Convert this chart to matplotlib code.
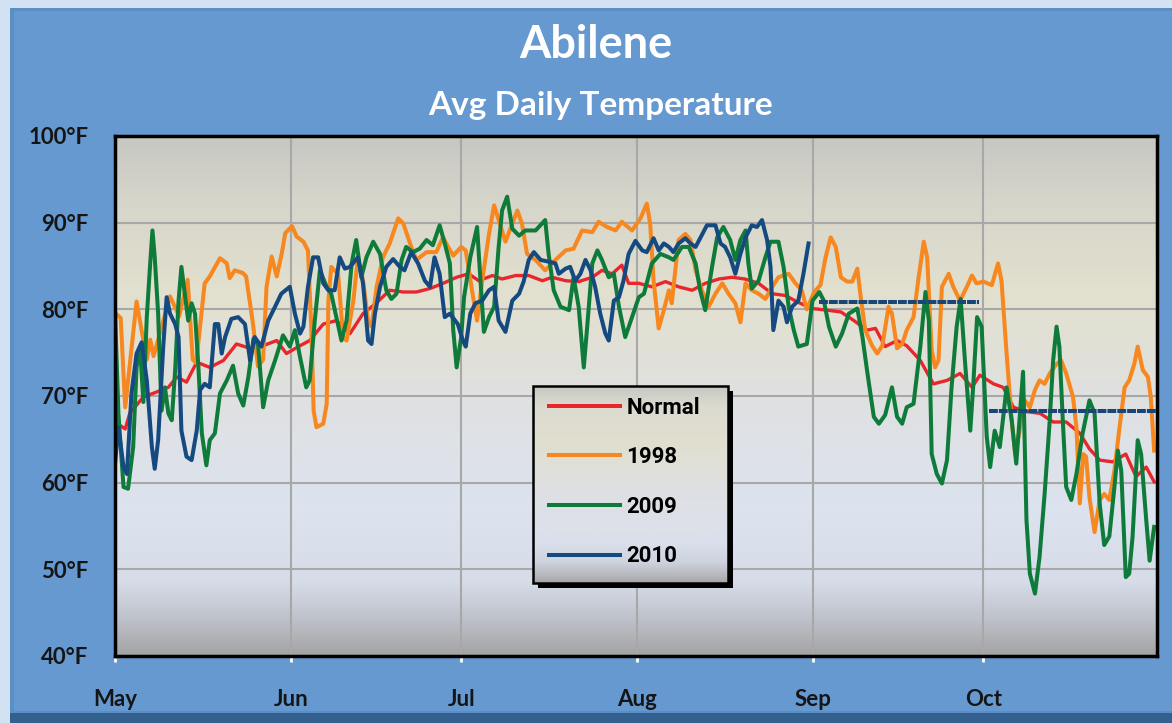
import numpy as np
import matplotlib
matplotlib.use("Agg")
import matplotlib.pyplot as plt
from matplotlib.colors import LinearSegmentedColormap
from matplotlib.patches import Rectangle

# ---- data: day offset from May 1, avg daily temperature (F) ----
normal_day = [0, 1.8, 2.6, 5, 6.7, 9.4, 10.9, 12.6, 14.4, 16.7, 19.1, 21.4, 23.8, 26.1, 28.5,
              30.2, 32.6, 34.3, 36.7, 39, 41.4, 43.7, 46, 48.4, 50.8, 53.1, 55.5, 57.8, 60.2,
              62.3, 64.1, 66.5, 68.2, 70.6, 72.9, 75.3, 77, 79.4, 81.7, 84.1, 85.8, 87.6, 89.3,
              90.5, 92.3, 94.6, 97, 99.3, 101.7, 104, 106.4, 108.7, 111, 113.4, 115.8, 118.1,
              120.4, 122.8, 125.5, 127.9, 130.2, 132.5, 134, 135.7, 137.8, 139.5, 141.9, 144.2,
              146.6, 148.9, 151, 152.4, 154.8, 156.5, 158.3, 160.6, 163, 165.3, 167.6, 170,
              171.7, 173.5, 175.8, 178.1, 179.9, 181.7, 183.1]
normal_temp = [67.0, 66.2, 68.0, 69.9, 70.3, 71.0, 72.2, 71.6, 73.9, 73.3, 74.1, 76.0, 75.5, 75.8, 76.4,
               74.9, 75.8, 76.4, 78.3, 78.7, 77.2, 79.5, 80.7, 82.2, 82.0, 82.0, 82.4, 83.0, 83.7,
               84.1, 83.3, 83.9, 83.5, 83.9, 83.9, 83.3, 83.7, 83.3, 83.2, 83.7, 84.5, 84.1, 85.1,
               83.0, 83.0, 82.6, 83.2, 82.6, 82.2, 83.0, 83.5, 83.7, 83.5, 83.0, 81.8, 81.6,
               80.8, 80.1, 79.9, 79.7, 78.7, 77.6, 77.8, 75.7, 76.4, 75.8, 74.1, 71.4,
               71.8, 72.6, 71.0, 72.4, 71.4, 71.0, 68.7, 68.2, 68.0, 67.0, 67.0, 65.7,
               63.9, 62.6, 62.4, 63.3, 60.7, 61.8, 60.1]

y1998_day = [0, 1.0, 1.8, 3.8, 5.6, 6.2, 6.8, 9.7, 11.3, 12.8, 13.7, 14.3, 15.8, 16.7, 18.5, 19.7,
             20.2, 21.1, 22.5, 23.1, 24.3, 25.2, 26.1, 26.7, 27.6, 28.5, 29.4, 30.0, 31.2, 32.0,
             33.2, 34.0, 34.6, 35.0, 35.5, 36.7, 37.3, 37.6, 38.1, 39.3, 40.2, 40.8, 42.0, 42.8,
             43.7, 44.6, 45.2, 46.1, 47.2, 48.4, 49.9, 50.8, 52.2, 53.1, 54.9, 56.6, 57.8, 58.7,
             59.6, 61.0, 61.8, 62.9, 63.8, 64.7, 65.9, 66.8, 67.6, 68.8, 70.0, 70.9, 71.7, 72.6,
             74.1, 75.8, 77.6, 79.4, 80.8, 82.3, 84.1, 85.2, 86.7, 88.2, 89.3, 91.1, 92.6, 93.7,
             94.3, 94.9, 95.8, 96.7, 97.6, 98.1, 99.3, 100.5, 101.4, 102.3, 103.4, 104.6, 105.8,
             107.0, 108.1, 109.3, 110.2, 111.1, 112.2, 113.4, 114.6, 115.8, 116.9, 118.7, 119.9,
             121.0, 121.9, 123.2, 124.3, 125.2, 126.1, 127.0, 127.9, 129.0, 129.9, 130.8, 131.4,
             132.2, 133.4, 134.3, 135.2, 136.3, 136.9, 137.8, 138.7, 139.5, 140.7, 141.6, 142.5,
             143.1, 143.9, 144.5, 145.1, 145.7, 146.9, 147.7, 148.9, 150.1, 151.0, 151.8, 153.0,
             154.5, 155.6, 156.2, 157.1, 158.0, 158.6, 159.4, 160.3, 161.2, 162.1, 162.9, 163.8,
             164.7, 165.9, 166.7, 167.6, 168.8, 169.4, 170.0, 170.6, 171.1, 171.7, 172.6, 173.5,
             174.3, 175.2, 176.1, 177.0, 177.9, 178.7, 179.6, 180.2, 181.1, 182.0, 182.5, 183.1]
y1998_temp = [79.6, 79.0, 68.7, 80.9, 74.2, 76.5, 74.6, 81.5, 79.2, 83.4, 74.2, 73.8, 83.0, 83.8, 85.9, 85.3,
              83.6, 84.5, 84.2, 83.8, 78.4, 73.4, 74.2, 82.6, 86.1, 83.8, 86.5, 88.8, 89.6, 88.4,
              87.8, 86.8, 77.6, 68.3, 66.4, 66.8, 69.1, 81.0, 84.9, 84.1, 76.8, 76.4, 81.0, 86.0,
              83.3, 78.7, 78.0, 82.6, 86.0, 87.6, 90.5, 89.9, 87.2, 85.7, 86.6, 86.6, 88.3, 87.2,
              86.2, 87.2, 86.8, 82.2, 78.7, 83.3, 88.7, 92.0, 90.3, 87.8, 89.9, 91.4, 89.9, 86.4,
              85.7, 84.5, 85.7, 86.8, 87.0, 89.1, 88.9, 90.1, 89.5, 89.1, 90.1, 89.1, 90.5, 92.2,
              89.9, 83.3, 77.8, 79.9, 82.2, 80.7, 88.0, 88.7, 88.0, 84.5, 82.2, 80.3, 81.8,
              83.0, 81.8, 80.7, 78.5, 83.0, 82.2, 81.8, 81.2, 82.6, 83.7, 84.1, 83.0,
              82.2, 80.0, 82.0, 82.8, 86.0, 88.3, 87.2, 83.7, 83.2, 83.2, 84.7, 81.4,
              77.6, 75.8, 74.9, 75.8, 80.3, 79.5, 75.5, 76.0, 77.6, 79.1, 83.7, 87.8,
              86.0, 75.3, 73.3, 74.1, 82.6, 84.1, 82.6, 81.0, 82.6, 83.9, 83.0, 83.2,
              82.8, 85.3, 83.3, 74.9, 67.2, 63.3, 66.0, 69.5, 68.7, 70.7, 71.8, 71.4,
              72.6, 73.7, 74.1, 72.6, 69.9, 66.4, 57.6, 63.3, 63.0, 58.3, 54.3, 58.0,
              58.7, 58.0, 61.4, 66.4, 71.0, 71.8, 73.7, 75.7, 73.0, 72.2, 69.9, 63.7]

y2009_day = [0, 0.6, 1.5, 2.3, 3.2, 3.8, 4.4, 5.0, 5.6, 6.2, 6.6, 7.0, 7.6, 8.2, 8.8, 9.4, 10.0,
             10.6, 11.2, 11.7, 12.3, 12.9, 13.5, 14.1, 14.7, 15.3, 16.1, 16.7, 17.6, 18.5, 19.7,
             20.8, 21.7, 22.6, 23.5, 24.4, 25.2, 26.1, 27.0, 28.2, 29.6, 30.8, 31.7, 32.6, 33.7,
             34.3, 35.2, 36.1, 37.3, 38.1, 39.0, 39.9, 40.8, 41.7, 42.5, 43.4, 44.3, 45.5, 46.7,
             47.8, 48.7, 49.6, 50.5, 51.3, 52.5, 53.7, 54.9, 56.0, 57.2, 58.1, 59.0, 59.6, 60.2,
             61.0, 61.5, 62.6, 63.8, 64.4, 65.0, 65.9, 66.8, 67.6, 68.2, 69.1, 70.0, 71.2, 72.3,
             74.1, 75.8, 76.4, 77.3, 78.5, 80.0, 80.8, 81.7, 82.6, 83.2, 84.1, 85.0, 85.8, 87.0,
             87.9, 88.8, 89.9, 91.1, 92.3, 93.2, 94.6, 96.1, 97.6, 98.4, 99.9, 101.1, 102.3,
             103.1, 104.0, 105.2, 106.1, 107.2, 108.4, 109.3, 110.2, 111.1, 111.6, 112.2, 113.4,
             114.6, 115.5, 116.9, 117.8, 118.7, 119.6, 120.4, 121.9, 122.9, 124.1, 124.9, 125.8,
             127.0, 128.1, 129.3, 130.8, 131.7, 132.5, 133.7, 134.6, 135.7, 136.9, 137.8, 138.7,
             139.5, 140.7, 141.9, 142.8, 143.4, 143.9, 144.8, 145.7, 146.6, 147.4, 148.3, 149.0,
             149.8, 150.7, 151.2, 151.9, 152.7, 153.6, 154.2, 155.0, 155.9, 157.1, 158.0, 158.8,
             160.0, 160.6, 161.2, 162.1, 162.9, 163.8, 164.7, 165.3, 165.9, 166.4, 167.0, 167.6,
             168.5, 169.4, 170.5, 171.7, 172.6, 173.5, 174.3, 175.2, 176.1, 176.7, 177.3, 178.1,
             178.7, 179.3, 180.2, 180.8, 181.7, 182.3, 183.1]
y2009_temp = [79.9, 68.0, 59.5, 59.3, 64.1, 73.3, 75.7, 69.3, 79.1, 85.3, 89.1, 86.0, 79.5, 68.3, 71.0, 68.0, 67.2,
              73.0, 81.0, 84.9, 81.8, 78.7, 80.7, 79.5, 73.3, 65.7, 62.0, 64.9, 65.7, 70.3, 71.8,
              73.5, 70.3, 68.9, 72.2, 76.6, 76.0, 68.7, 71.8, 74.1, 77.0, 75.7, 77.6, 74.5, 71.0,
              71.8, 78.7, 84.5, 82.6, 81.8, 79.1, 76.4, 78.7, 85.3, 88.0, 83.7, 86.0, 87.8, 86.4,
              82.2, 81.2, 81.8, 85.7, 87.2, 86.6, 87.0, 88.0, 87.4, 89.7, 87.6, 85.3, 77.6, 73.3,
              76.8, 81.4, 86.0, 89.5, 83.3, 77.4, 79.1, 80.3, 87.2, 91.4, 93.0, 89.3, 88.5, 89.1,
              89.1, 90.3, 86.4, 82.2, 80.3, 79.9, 83.7, 80.3, 73.3, 78.0, 85.3, 86.8, 85.7, 83.7,
              84.1, 80.3, 76.8, 79.1, 81.4, 81.8, 85.3, 86.4, 86.0, 85.7, 87.2, 87.2, 85.3,
              82.2, 79.9, 84.9, 88.3, 89.5, 88.0, 85.7, 88.0, 89.1, 85.3, 82.4, 83.3,
              86.0, 87.8, 87.8, 84.9, 80.3, 77.6, 75.7, 76.0, 81.0, 82.0, 81.0, 78.0,
              75.7, 77.2, 79.5, 80.1, 76.8, 73.0, 67.6, 66.8, 67.8, 71.0, 67.6, 66.8,
              68.7, 69.1, 75.7, 82.0, 78.7, 63.3, 61.0, 59.9, 62.6, 71.0, 78.0, 81.2,
              73.7, 66.0, 71.0, 79.1, 78.0, 65.3, 61.8, 66.0, 64.1, 71.0, 67.2, 62.2,
              72.8, 55.7, 49.5, 47.2, 51.4, 58.7, 67.2, 74.1, 78.0, 75.7, 67.2, 59.5,
              58.0, 61.0, 65.7, 69.5, 68.0, 57.6, 52.8, 53.8, 59.5, 63.7, 61.4, 49.1,
              49.5, 53.8, 64.9, 63.3, 55.7, 51.0, 54.9]

y2010_day = [0, 0.6, 1.5, 2.1, 2.9, 3.8, 4.7, 5.6, 6.5, 7.0, 7.6, 8.5, 9.1, 9.7, 10.6, 11.2, 11.7,
             12.6, 13.5, 14.4, 15.0, 15.8, 16.7, 17.6, 18.2, 18.8, 19.4, 20.5, 21.7, 22.9, 23.8,
             24.6, 25.8, 27.0, 28.2, 29.3, 30.8, 31.7, 32.6, 33.2, 34.0, 34.9, 35.8, 36.7, 37.6,
             38.7, 39.6, 40.5, 41.4, 42.8, 43.7, 44.6, 45.2, 45.8, 46.7, 47.8, 49.0, 50.2, 51.0,
             52.2, 53.4, 54.6, 55.5, 56.3, 57.2, 58.1, 59.0, 60.4, 61.3, 61.8, 62.6, 63.5, 64.7,
             65.9, 66.8, 67.6, 68.8, 70.0, 71.2, 72.0, 72.9, 73.8, 75.0, 76.4, 77.6, 78.2, 79.4,
             80.2, 81.1, 82.0, 82.9, 83.8, 84.6, 85.5, 86.4, 87.0, 87.9, 88.8, 89.6, 90.5, 91.7,
             92.9, 93.7, 94.9, 95.8, 96.7, 97.6, 98.4, 99.3, 100.5, 101.4, 102.3, 103.1, 104.3,
             105.8, 106.7, 107.5, 108.4, 109.3, 110.2, 111.1, 112.2, 113.1, 114.0, 114.9, 115.5,
             116.0, 116.9, 117.8, 118.4, 119.3, 120.4, 121.3, 122.2]
y2010_temp = [62.2, 66.4, 61.8, 61.0, 70.3, 74.9, 76.2, 71.8, 64.1, 61.6, 64.9, 75.7, 81.4, 79.5, 78.3, 76.8, 66.0,
              63.0, 62.6, 66.0, 70.7, 71.4, 71.0, 78.3, 78.3, 74.9, 76.8, 78.9, 79.1, 78.3, 74.1,
              76.8, 75.7, 78.7, 80.3, 81.8, 82.6, 79.5, 77.2, 78.0, 82.6, 86.0, 86.0, 83.0, 82.2,
              82.2, 86.0, 84.7, 84.9, 86.0, 83.0, 76.4, 76.0, 79.5, 82.6, 84.9, 85.8, 84.9, 84.5,
              86.6, 85.3, 83.3, 82.6, 86.0, 84.1, 79.1, 79.5, 78.3, 76.4, 75.7, 79.5, 80.7, 81.0,
              82.2, 82.6, 78.7, 77.4, 81.0, 81.8, 83.2, 85.7, 86.6, 85.7, 85.5, 85.3, 84.1, 84.7,
              84.9, 83.3, 84.1, 85.7, 84.5, 82.6, 79.5, 77.2, 76.4, 81.0, 81.4, 83.3, 86.4, 87.9,
              86.8, 86.6, 88.2, 86.8, 87.6, 87.2, 86.6, 87.6, 88.2, 87.6, 87.2, 88.2, 89.7,
              89.7, 87.6, 87.2, 86.0, 84.1, 86.4, 88.3, 89.7, 89.5, 90.3, 88.0, 84.9,
              77.6, 81.0, 80.3, 78.5, 80.3, 81.0, 84.1, 87.6]

# 2010 monthly averages drawn for Sep and Oct
sep_span = [124, 152.3]
sep_avg = 80.8
oct_span = [154, 183.5]
oct_avg = 68.3

month_start = [0, 31, 61, 92, 123, 153]
month_labels = ["May", "Jun", "Jul", "Aug", "Sep", "Oct"]
y_ticks = [40, 50, 60, 70, 80, 90, 100]

W, H = 1172, 723
fig = plt.figure(figsize=(W / 100, H / 100), dpi=100, facecolor="#D3E2F2")

# blue panel behind the chart, darker band at the bottom
fig.add_artist(Rectangle((10 / W, 0), 1, 11 / H, transform=fig.transFigure,
                         facecolor="#33608F", edgecolor="none", zorder=-3))
fig.add_artist(Rectangle((10 / W, 10 / H), 1, 705 / H, transform=fig.transFigure,
                         facecolor="#5C8EC6", edgecolor="none", zorder=-2))
fig.add_artist(Rectangle((14 / W, 12 / H), 1, 700 / H, transform=fig.transFigure,
                         facecolor="#6699D0", edgecolor="none", zorder=-2))

ax = fig.add_axes([115 / W, 1 - 656 / H, 1042 / W, 520 / H])

# gradient fill of the plot area
grad = LinearSegmentedColormap.from_list("bg", [
    (0.0, "#C7C7C3"), (0.12, "#D6D5CA"), (0.3, "#E2E0CE"), (0.55, "#DFE1E4"),
    (0.72, "#DCE3EF"), (0.86, "#D6DCE8"), (0.93, "#BEC2CA"), (1.0, "#A3A3A3")])
ax.imshow(np.linspace(0, 1, 256).reshape(-1, 1), cmap=grad, aspect="auto",
          extent=[0, 1, 0, 1], transform=ax.transAxes, zorder=0)

ax.set_xlim(0, 183.6)
ax.set_ylim(40, 100)

ax.set_yticks(y_ticks)
ax.set_yticklabels([f"{t}°F" for t in y_ticks])
ax.set_xticks(month_start)
ax.set_xticklabels(month_labels)
ax.grid(True, color="#A8A8A8", lw=1.5, zorder=1)

lw = 2.9
ax.plot(normal_day, normal_temp, color="#E8262B", lw=2.4, label="Normal", zorder=3)
ax.plot(y1998_day, y1998_temp, color="#F7871F", lw=lw, label="1998", zorder=4)
ax.plot(y2009_day, y2009_temp, color="#0F7B3B", lw=lw, label="2009", zorder=5)
ax.plot(y2010_day, y2010_temp, color="#144A80", lw=lw, label="2010", zorder=6)
ax.plot(sep_span, [sep_avg, sep_avg], color="#1A4577", lw=2.9, ls=(0, (2.2, 0.25)),
        zorder=6)
ax.plot(oct_span, [oct_avg, oct_avg], color="#1A4577", lw=2.9, ls=(0, (2.2, 0.25)),
        zorder=6)

for s in ax.spines.values():
    s.set_color("black")
    s.set_linewidth(2.5)
    s.set_zorder(7)

ax.tick_params(axis="y", length=0, pad=19, labelsize=16, labelcolor="#151515")
ax.tick_params(axis="x", length=4, width=2, color="white", pad=20, labelsize=16,
               labelcolor="#151515")
for lab in ax.get_xticklabels() + ax.get_yticklabels():
    lab.set_family("Lato")
    lab.set_fontweight("bold")

# legend box: shadow, gradient fill, black frame
lx0, lx1 = (533 - 115) / 1042, (728 - 115) / 1042
ly0, ly1 = (656 - 583) / 520, (656 - 386) / 520
sx, sy = 5 / 1042, 5 / 520
ax.add_patch(Rectangle((lx0 + sx, ly0 - sy), lx1 - lx0, ly1 - ly0, transform=ax.transAxes,
                       facecolor="black", edgecolor="none", zorder=8))
leg_grad = LinearSegmentedColormap.from_list("lg", [
    (0.0, "#C8C8C4"), (0.1, "#DCDBCF"), (0.3, "#E0DFD0"), (0.55, "#DEE0E3"),
    (0.8, "#DAE0EC"), (0.9, "#CDD2DC"), (1.0, "#A8A8A8")])
ax.imshow(np.linspace(0, 1, 128).reshape(-1, 1), cmap=leg_grad, aspect="auto",
          extent=[lx0, lx1, ly0, ly1], transform=ax.transAxes, zorder=9)
ax.add_patch(Rectangle((lx0, ly0), lx1 - lx0, ly1 - ly0, transform=ax.transAxes,
                       facecolor="none", edgecolor="black", lw=1.8, zorder=9.5))

leg = ax.legend(loc="upper left", bbox_to_anchor=(lx0 + 9 / 1042, ly1 - 4 / 520),
                borderaxespad=0, frameon=False, handlelength=3.2, handletextpad=0.3,
                labelspacing=1.24, borderpad=0.3,
                prop={"family": "Roboto", "weight": "bold", "size": 16})
leg.set_zorder(10)
for h in leg.get_lines():
    h.set_linewidth(2.9)

fig.text(596 / W, 1 - 45 / H, "Abilene", ha="center", va="center", color="white",
         fontsize=32.5, fontweight="bold", family="Lato")
fig.text(601 / W, 1 - 105 / H, "Avg Daily Temperature", ha="center", va="center",
         color="white", fontsize=24, fontweight="bold", family="Lato")

fig.savefig("out.png", dpi=100, facecolor=fig.get_facecolor())
